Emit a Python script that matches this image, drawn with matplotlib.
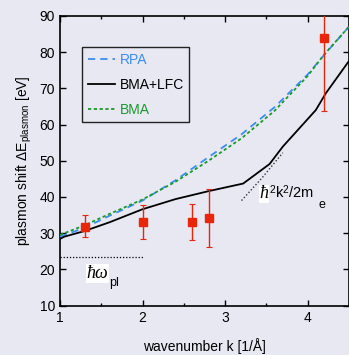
import matplotlib
matplotlib.use("Agg")
import matplotlib.pyplot as plt

plt.rcParams['font.family'] = ['Liberation Sans', 'DejaVu Sans']
plt.rcParams['mathtext.fontset'] = 'custom'
plt.rcParams['mathtext.rm'] = 'Liberation Sans'
plt.rcParams['mathtext.it'] = 'Liberation Serif:italic'
plt.rcParams['mathtext.bf'] = 'Liberation Sans:bold'

# ---- data ----
k_grid = [1.0, 1.3, 1.6, 2.0, 2.4, 2.8, 3.2, 3.6, 4.0, 4.2, 4.5]
E_rpa = [29.0, 31.5, 34.8, 39.0, 44.6, 51.0, 57.3, 64.8, 73.8, 79.2, 87.0]
E_bma = [29.5, 32.2, 35.3, 39.3, 44.2, 50.0, 56.2, 63.8, 73.4, 79.3, 87.0]

k_lfc = [1.0, 1.05, 1.3, 1.6, 2.0, 2.4, 2.8, 3.0, 3.22, 3.54, 3.7, 4.1, 4.22, 4.5]
E_lfc = [28.4, 29.0, 30.6, 33.0, 36.6, 39.4, 41.6, 42.6, 43.7, 49.1, 53.9, 64.0, 68.6, 77.5]

k_free = [3.2, 3.45, 3.7]
E_free = [39.0, 45.3, 52.2]

k_pl = [1.0, 2.0]
E_pl = [23.3, 23.3]

k_exp = [1.3, 2.0, 2.6, 2.8, 4.2]
E_exp = [31.8, 33.0, 33.2, 34.3, 83.8]
err_lo = [3.0, 4.7, 5.0, 8.2, 20.0]
err_hi = [3.2, 4.8, 4.8, 7.8, 20.0]

x_ticks = [1, 2, 3, 4]
y_ticks = [10, 20, 30, 40, 50, 60, 70, 80, 90]

# ---- style ----
bg = '#E8E8F3'
c_rpa = '#3C8DF0'
c_bma = '#1A9A2A'
c_red = '#E8260A'

fig = plt.figure(figsize=(3.49, 3.55), dpi=100, facecolor=bg)
ax = fig.add_axes([60/349, 1-305.5/355, 288.8/349, 289.5/355], facecolor=bg)

ax.plot(k_grid, E_rpa, color=c_rpa, lw=1.3, dashes=(4.0, 2.8), label='RPA', zorder=3)
ax.plot(k_lfc, E_lfc, color='black', lw=1.3, label='BMA+LFC', zorder=3)
ax.plot(k_grid, E_bma, color=c_bma, lw=1.3, dashes=(1.8, 1.4), label='BMA', zorder=3)
ax.plot(k_free, E_free, color='#333333', lw=1.0, dashes=(1, 1.5), zorder=2)
ax.plot(k_pl, E_pl, color='black', lw=0.9, dashes=(1, 1.5), zorder=2)

ax.errorbar(k_exp, E_exp, yerr=[err_lo, err_hi], fmt='s', color=c_red, ms=6,
            ecolor=c_red, elinewidth=1.0, capsize=2.5, capthick=0.8, zorder=4)

ax.set_xlim(1, 4.5)
ax.set_ylim(10, 90)
ax.set_xticks(x_ticks)
ax.set_xticks([1.5, 2.5, 3.5], minor=True)
ax.set_yticks(y_ticks)
ax.tick_params(which='both', direction='in', top=True, right=True, labelsize=10,
               width=1.0, colors='black')
ax.tick_params(which='major', length=4.5)
ax.tick_params(which='minor', length=2.5)
ax.tick_params(axis='x', pad=4)
for s in ax.spines.values():
    s.set_linewidth(1.2)

ax.set_xlabel('wavenumber k [1/Å]', fontsize=10, labelpad=9)
ax.set_ylabel(r'plasmon shift $\Delta$E$_{\rm plasmon}$ [eV]', fontsize=10, labelpad=4)

leg = ax.legend(loc='upper left', bbox_to_anchor=(0.076, 0.893), borderaxespad=0,
                fontsize=10, handlelength=2.0, handletextpad=0.3, borderpad=0.4,
                labelspacing=0.8, fancybox=False, framealpha=1, facecolor=bg,
                edgecolor='#222222', labelcolor='linecolor')
leg.get_frame().set_linewidth(1.0)

ax.text(1.32, 17.6, '\u0127\u03c9', fontsize=13, family='Liberation Serif',
        style='italic', ha='left', va='baseline',
        bbox=dict(facecolor='white', edgecolor='none', pad=0.5))
ax.text(1.59, 15.4, 'pl', fontsize=9, ha='left', va='baseline')

ax.text(3.42, 39.6, '\u0127', fontsize=13, family='Liberation Serif',
        style='italic', ha='left', va='baseline',
        bbox=dict(facecolor='white', edgecolor='none', pad=0.5))
ax.text(3.53, 39.6, r'$^2$k$^2$/2m', fontsize=10.5, ha='left', va='baseline')
ax.text(4.13, 37.0, 'e', fontsize=9, ha='left', va='baseline')

fig.savefig('out.png', dpi=100, facecolor=bg)
